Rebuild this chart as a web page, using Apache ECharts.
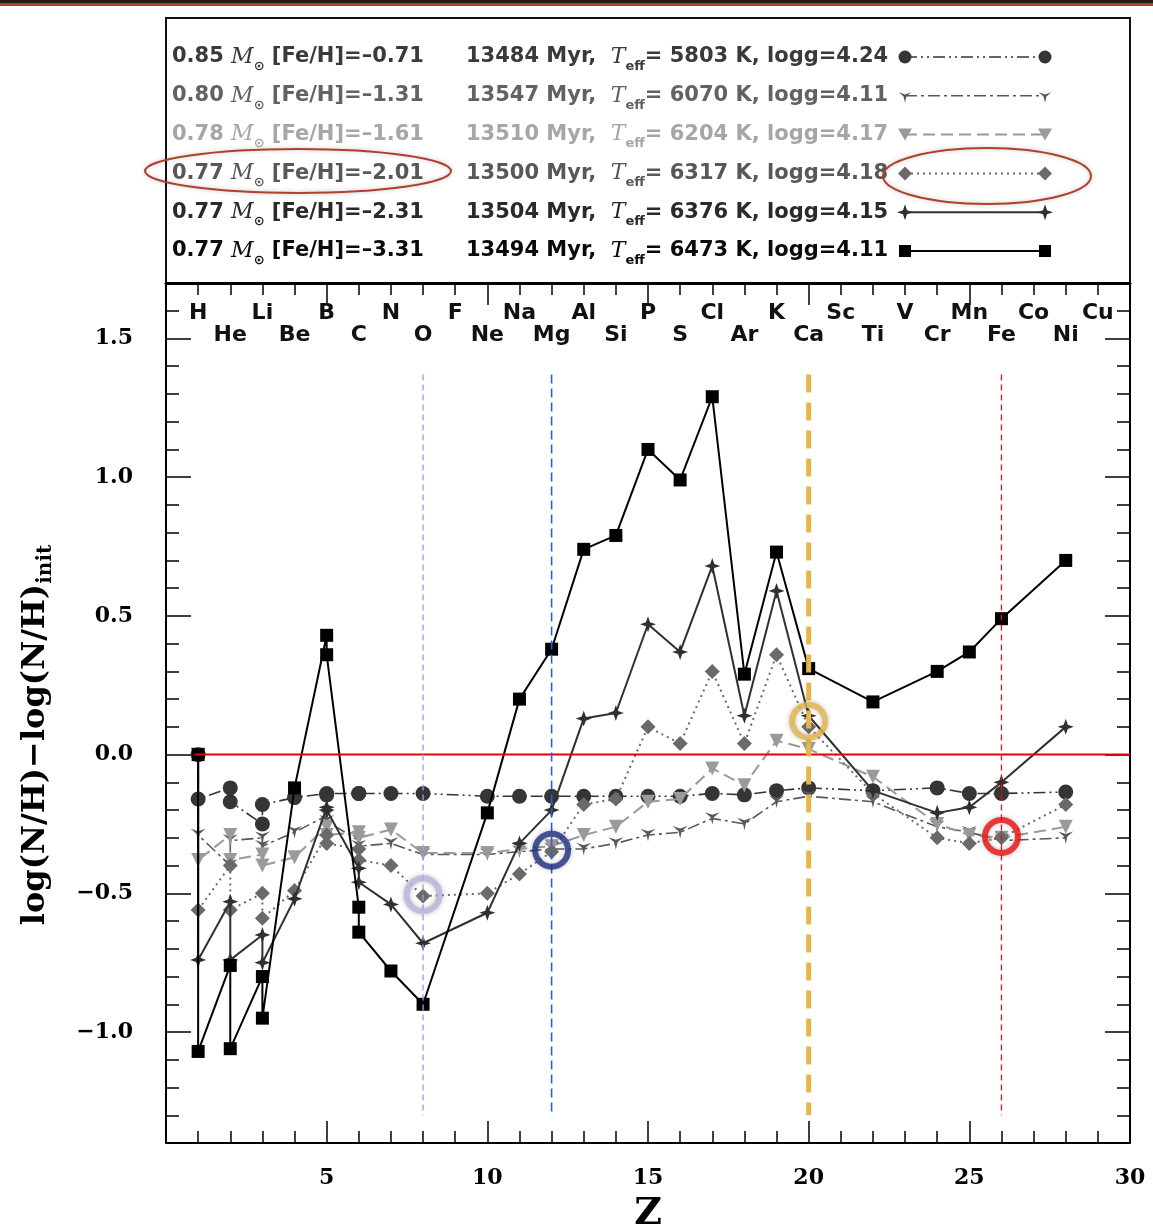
<!DOCTYPE html>
<html><head><meta charset="utf-8">
<script src="https://cdn.jsdelivr.net/npm/echarts@6/dist/echarts.min.js"></script>
<style>html,body{margin:0;padding:0;background:#fff}#c{width:1153px;height:1232px}</style>
</head><body><div id="c"></div>
<script>
// ---------------- data ----------------
const elementNames = ['', 'H','He','Li','Be','B','C','N','O','F','Ne','Na','Mg','Al','Si','P','S','Cl','Ar','K','Ca','Sc','Ti','V','Cr','Mn','Fe','Co','Ni','Cu',''];
// atomic number of each plotted point (isotopes share Z)
const zValues = [1,1,2,2,3,3,4,5,5,6,6,7,8,10,11,12,13,14,15,16,17,18,19,20,22,24,25,26,28];
const circleVals   = [0,-0.16,-0.12,-0.17,-0.25,-0.18,-0.155,-0.14,-0.145,-0.14,-0.14,-0.14,-0.14,-0.15,-0.15,-0.15,-0.15,-0.15,-0.15,-0.15,-0.14,-0.145,-0.13,-0.12,-0.13,-0.12,-0.14,-0.14,-0.135];
const tristarVals  = [0,-0.29,-0.40,-0.31,-0.30,-0.33,-0.28,-0.22,-0.24,-0.31,-0.33,-0.32,-0.36,-0.36,-0.35,-0.34,-0.34,-0.32,-0.29,-0.28,-0.23,-0.25,-0.17,-0.15,-0.17,-0.26,-0.28,-0.31,-0.30];
const triangleVals = [0,-0.38,-0.29,-0.38,-0.36,-0.40,-0.37,-0.26,-0.29,-0.28,-0.30,-0.27,-0.355,-0.355,-0.34,-0.33,-0.29,-0.26,-0.17,-0.16,-0.05,-0.11,0.05,0.02,-0.08,-0.25,-0.29,-0.30,-0.26];
const diamondVals  = [0,-0.56,-0.40,-0.56,-0.50,-0.59,-0.49,-0.29,-0.32,-0.34,-0.38,-0.40,-0.51,-0.50,-0.43,-0.35,-0.18,-0.16,0.10,0.04,0.30,0.04,0.36,0.10,-0.14,-0.30,-0.32,-0.30,-0.18];
const starVals     = [0,-0.74,-0.53,-0.74,-0.65,-0.75,-0.52,-0.19,-0.20,-0.41,-0.46,-0.54,-0.68,-0.57,-0.32,-0.20,0.13,0.15,0.47,0.37,0.68,0.14,0.59,0.14,-0.13,-0.21,-0.19,-0.10,0.10];
const squareVals   = [0,-1.07,-0.76,-1.06,-0.80,-0.95,-0.12,0.43,0.36,-0.55,-0.64,-0.78,-0.90,-0.21,0.20,0.38,0.74,0.79,1.10,0.99,1.29,0.29,0.73,0.31,0.19,0.30,0.37,0.49,0.70];

const legMass = ['0.85','0.80','0.78','0.77','0.77','0.77'];
const legFeH  = ['\u20130.71','\u20131.31','\u20131.61','\u20132.01','\u20132.31','\u20133.31'];
const legAge  = ['13484','13547','13510','13500','13504','13494'];
const legTeff = ['5803','6070','6204','6317','6376','6473'];
const legLogg = ['4.24','4.11','4.17','4.18','4.15','4.11'];

const xTickLabels = [5,10,15,20,25,30];
const yTickLabels = [-1.0,-0.5,0,0.5,1.0,1.5];

// highlighted rings and vertical guide lines
const ringZ = [8,12,20,26];
const ringV = [-0.505,-0.345,0.12,-0.295];
const guideZ = [8,12,20,26];
const guideTop = 1.37, guideBottom = -1.30;
const zeroLineZ = [0.9, 30];

// ---------------- styles ----------------
const TRI = 'path://M0,10 L2,1 L9,-5 L0,-2 L-9,-5 L-2,1 Z';
const STAR = 'path://M0,-10 L2.6,-2.6 L10,0 L2.6,2.6 L0,10 L-2.6,2.6 L-10,0 L-2.6,-2.6 Z';
const defs = [
  {vals: circleVals,   color:'#353535', dash:[12,4,2,4,2,4], width:1.6, symbol:'circle',  size:15, rot:0,   shape:'circle'},
  {vals: tristarVals,  color:'#585858', dash:[12,4,3,4],     width:1.6, symbol:TRI,       size:15, rot:0,   shape:'tri'},
  {vals: triangleVals, color:'#9a9a9a', dash:[12,6],         width:2,   symbol:'triangle',size:14, rot:180, shape:'triDown'},
  {vals: diamondVals,  color:'#6a6a6a', dash:[2,4],          width:2,   symbol:'diamond', size:15, rot:0,   shape:'diamond'},
  {vals: starVals,     color:'#303030', dash:'solid',        width:2,   symbol:STAR,      size:16, rot:0,   shape:'star'},
  {vals: squareVals,   color:'#000000', dash:'solid',        width:2,   symbol:'rect',    size:13, rot:0,   shape:'square'}
];
const rowColors = ['#3a3a3a','#626262','#a6a6a6','#585858','#2a2a2a','#0a0a0a'];
const ringColors = ['#bcb8de','#213086','#e6b84c','#ee1010'];
const guideStyles = [
  {color:'#9c9ce6', width:1.3, type:[6,4]},
  {color:'#3558d8', width:1.6, type:[9,5]},
  {color:'#e8b648', width:5, type:[18,10]},
  {color:'#e01515', width:1.3, type:[6,4]}
];

const chart = echarts.init(document.getElementById('c'));

function markerGraphic(shape, cx, cy, color) {
  const st = {fill: color};
  if (shape === 'circle') return {type:'circle', shape:{cx, cy, r:6.5}, style:st};
  if (shape === 'square') return {type:'rect', shape:{x:cx-6, y:cy-6, width:12, height:12}, style:st};
  let pts;
  if (shape === 'triDown') pts = [[-7,-6],[7,-6],[0,6]];
  else if (shape === 'diamond') pts = [[0,-7],[7,0],[0,7],[-7,0]];
  else if (shape === 'star') pts = [[0,-8],[2,-2],[8,0],[2,2],[0,8],[-2,2],[-8,0],[-2,-2]];
  else pts = [[0,7],[1.4,0.7],[6.3,-3.5],[0,-1.4],[-6.3,-3.5],[-1.4,0.7]];
  return {type:'polygon', shape:{points: pts.map(p => [cx+p[0], cy+p[1]])}, style:st};
}
function rich(col) {
  const base = {fontFamily:'DejaVu Sans', fontWeight:'bold', fontSize:21, lineHeight:32, verticalAlign:'middle', fill:col, color:col};
  return {
    t: base,
    i: {fontFamily:'DejaVu Serif', fontStyle:'italic', fontWeight:'normal', fontSize:22, lineHeight:32, verticalAlign:'middle', fill:col, color:col},
    s: {fontFamily:'DejaVu Sans', fontWeight:'bold', fontSize:13, lineHeight:14, verticalAlign:'bottom', fill:col, color:col}
  };
}

const graphics = [
  {type:'rect', shape:{x:0, y:0, width:1153, height:3}, style:{fill:'#2a1a12'}},
  {type:'rect', shape:{x:0, y:3, width:1153, height:3}, style:{fill:'#a8452a'}},
  {type:'rect', shape:{x:166, y:18, width:964, height:265}, style:{fill:'none', stroke:'#111', lineWidth:2}}
];
legMass.forEach((m, i) => {
  const y = 57 + i * 38.8, col = rowColors[i], d = defs[i];
  graphics.push({type:'text', x:172, y:y, style:{text:'{t|' + m + ' }{i|M}{s|\u2299}{t| [Fe/H]=' + legFeH[i] + '}', rich: rich(col), align:'left', verticalAlign:'middle'}});
  graphics.push({type:'text', x:466, y:y, style:{text:'{t|' + legAge[i] + ' Myr,  }{i|T}{s|eff}{t|= ' + legTeff[i] + ' K, logg=' + legLogg[i] + '}', rich: rich(col), align:'left', verticalAlign:'middle'}});
  graphics.push({type:'polyline', shape:{points:[[905,y],[1045,y]]}, style:{stroke:d.color, lineWidth:d.width, lineDash: Array.isArray(d.dash) ? d.dash : null, fill:null}});
  graphics.push(markerGraphic(d.shape, 905, y, d.color));
  graphics.push(markerGraphic(d.shape, 1045, y, d.color));
});
graphics.push({type:'ellipse', shape:{cx:298, cy:171, rx:153, ry:22}, style:{fill:'none', stroke:'#b0402c', lineWidth:2, shadowBlur:4, shadowColor:'rgba(0,0,0,0.25)'}});
graphics.push({type:'ellipse', shape:{cx:987, cy:176, rx:104, ry:28}, style:{fill:'none', stroke:'#b0402c', lineWidth:2, shadowBlur:4, shadowColor:'rgba(0,0,0,0.25)'}});

const serifLabel = {fontFamily:'DejaVu Serif', fontWeight:'bold', fontSize:22, color:'#000'};
const tickStyle = {color:'#000', width:1.5};
function isHalf(v){ const r = Math.round(v*10)/10; return Math.abs(r*2 - Math.round(r*2)) < 1e-6; }

const xAxes = [
  {type:'value', position:'bottom', min:0, max:30, interval:1,
   axisLine:{onZero:false, lineStyle:{color:'#000', width:2}},
   axisTick:{inside:true, length:12, lineStyle:tickStyle},
   axisLabel:Object.assign({margin:24, formatter: v => xTickLabels.indexOf(v) >= 0 ? String(v) : ''}, serifLabel),
   splitLine:{show:false},
   name:'Z', nameLocation:'middle', nameGap:52,
   nameTextStyle:{fontFamily:'DejaVu Serif', fontWeight:'bold', fontSize:38, color:'#000'}},
  {type:'value', position:'bottom', min:0, max:30, interval:5,
   axisLine:{show:false, onZero:false}, axisTick:{inside:true, length:22, lineStyle:tickStyle},
   axisLabel:{show:false}, splitLine:{show:false}},
  {type:'value', position:'top', min:0, max:30, interval:1,
   axisLine:{onZero:false, lineStyle:{color:'#000', width:3}},
   axisTick:{inside:true, length:12, lineStyle:tickStyle},
   axisLabel:{inside:true, margin:19, lineHeight:22, fontFamily:'DejaVu Sans', fontWeight:'bold', fontSize:22, color:'#111',
     formatter: v => { const n = elementNames[v] || ''; if (!n) return ''; return (v % 2 === 1) ? n + '\n ' : ' \n' + n; }},
   splitLine:{show:false}},
  {type:'value', position:'top', min:0, max:30, interval:5,
   axisLine:{show:false, onZero:false}, axisTick:{inside:true, length:22, lineStyle:tickStyle},
   axisLabel:{show:false}, splitLine:{show:false}}
];
const yAxes = [
  {type:'value', position:'left', min:-1.4, max:1.7, interval:0.1,
   axisLine:{show:true, onZero:false, lineStyle:{color:'#000', width:2}},
   axisTick:{inside:true, length:13, lineStyle:tickStyle},
   axisLabel:Object.assign({margin:33, customValues: yTickLabels,
     formatter: v => { if (!isHalf(v)) return ''; const r = Math.round(v*10)/10; return (r < 0 ? '\u2212' : '') + Math.abs(r).toFixed(1); }}, serifLabel),
   splitLine:{show:false},
   name:'{a|log(N/H)\u2212log(N/H)}{s|init}', nameLocation:'middle', nameRotate:90, nameGap:110,
   nameTextStyle:{padding:[0,44,0,0], rich:{
     a:{fontFamily:'DejaVu Serif', fontWeight:'bold', fontSize:32, color:'#000', lineHeight:40, verticalAlign:'middle'},
     s:{fontFamily:'DejaVu Serif', fontWeight:'bold', fontSize:20, color:'#000', lineHeight:20, verticalAlign:'bottom'}}}},
  {type:'value', position:'left', min:-1.4, max:1.7,
   axisLine:{show:false, onZero:false}, axisTick:{inside:true, length:25, lineStyle:tickStyle, customValues: yTickLabels},
   axisLabel:{show:false}, splitLine:{show:false}},
  {type:'value', position:'right', min:-1.4, max:1.7, interval:0.1,
   axisLine:{show:true, onZero:false, lineStyle:{color:'#000', width:2}},
   axisTick:{inside:true, length:13, lineStyle:tickStyle},
   axisLabel:{show:false}, splitLine:{show:false}},
  {type:'value', position:'right', min:-1.4, max:1.7,
   axisLine:{show:false, onZero:false}, axisTick:{inside:true, length:25, lineStyle:tickStyle, customValues: yTickLabels},
   axisLabel:{show:false}, splitLine:{show:false}}
];

const series = defs.map((d, i) => ({
  type:'line', name:'model' + i, xAxisIndex:0, yAxisIndex:0,
  data: zValues.map((z, k) => [z, d.vals[k]]),
  symbol: d.symbol, symbolSize: d.size, symbolRotate: d.rot, symbolKeepAspect: true,
  showSymbol: true, showAllSymbol: true,
  lineStyle: {color: d.color, width: d.width, type: d.dash},
  itemStyle: {color: d.color},
  z: 3 + i, animation: false
}));

// vertical guide lines
guideZ.forEach((z, k) => {
  series.push({
    type:'line', name:'guide' + k, xAxisIndex:0, yAxisIndex:0,
    data: [[z, guideTop], [z, guideBottom]],
    symbol:'none', silent:true, animation:false,
    lineStyle: Object.assign({}, guideStyles[k]),
    itemStyle:{color: guideStyles[k].color},
    z: 14
  });
});
// zero reference line
series.push({
  type:'line', name:'zero', xAxisIndex:0, yAxisIndex:0,
  data: zeroLineZ.map(z => [z, 0]),
  symbol:'none', silent:true, animation:false,
  lineStyle:{color:'#e80000', width:2, type:'solid'}, itemStyle:{color:'#e80000'},
  z: 13
});
// highlight rings
series.push({
  type:'scatter', name:'rings', xAxisIndex:0, yAxisIndex:0,
  data: ringZ.map((z, k) => ({value:[z, ringV[k]], itemStyle:{borderColor: ringColors[k]}})),
  symbol:'circle', symbolSize:33,
  itemStyle:{color:'rgba(0,0,0,0)', borderWidth:6, shadowBlur:5, shadowColor:'rgba(0,0,0,0.3)'},
  z: 20, silent:true, animation:false
});

chart.setOption({
  animation:false,
  backgroundColor:'#ffffff',
  grid:{left:166, right:23, top:283, bottom:89, containLabel:false, outerBoundsMode:'none'},
  xAxis: xAxes, yAxis: yAxes,
  series: series,
  graphic: graphics
});
</script></body></html>
